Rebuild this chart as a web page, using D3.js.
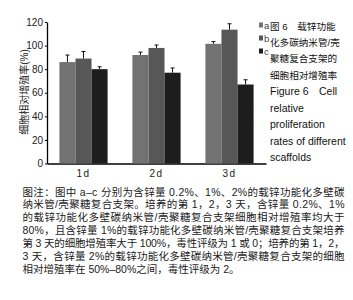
<!DOCTYPE html>
<html>
<head>
<meta charset="utf-8">
<script src="https://cdn.jsdelivr.net/npm/d3@7"></script>
<style>
  body { margin: 0; background: #fff; }
  svg { display: block; }
  text { font-family: "Liberation Sans", "Noto Sans CJK SC", sans-serif; }
</style>
</head>
<body>
<svg width="353" height="300"></svg>
<script>
const days = ["1d", "2d", "3d"]
const series = ["a", "b", "c"]
const valA = [86, 92, 101.5]
const valB = [89, 98, 113.5]
const valC = [80, 77, 67]
const errA = [6, 2.5, 2]
const errB = [6, 2.5, 5]
const errC = [2, 4, 4]
const yTicks = [0, 20, 40, 60, 80, 100, 120]
const colors = ["#727272", "#575757", "#1d1d1d"]

const titleLines = ["图 6　载锌功能", "化多碳纳米管/壳", "聚糖复合支架的", "细胞相对增殖率",
  "Figure 6　Cell", "relative", "proliferation", "rates of different", "scaffolds"]
const noteLines = [
  "图注：图中 a–c 分别为含锌量 0.2%、1%、2%的载锌功能化多壁碳",
  "纳米管/壳聚糖复合支架。培养的第 1，2，3 天，含锌量 0.2%、1%",
  "的载锌功能化多壁碳纳米管/壳聚糖复合支架细胞相对增殖率均大于",
  "80%，且含锌量 1%的载锌功能化多壁碳纳米管/壳聚糖复合支架培养",
  "第 3 天的细胞增殖率大于 100%，毒性评级为 1 或 0；培养的第 1，2，",
  "3 天，含锌量 2%的载锌功能化多壁碳纳米管/壳聚糖复合支架的细胞",
  "相对增殖率在 50%–80%之间，毒性评级为 2。"
]

const vals = [valA, valB, valC]
const errs = [errA, errB, errC]
const svg = d3.select("svg")

const x0 = d3.scaleBand().domain(days).range([47, 266]).paddingInner(0.34).paddingOuter(0.17)
const x1 = d3.scaleBand().domain(series).range([0, x0.bandwidth()])
const y = d3.scaleLinear().domain([0, 120]).range([163.5, 22])

// axes
const yAxis = d3.axisLeft(y).tickValues(yTicks).tickSize(2).tickSizeOuter(0).tickPadding(2)
const gy = svg.append("g").attr("transform", "translate(47,0)").call(yAxis)
gy.select(".domain").attr("stroke", "#000").attr("stroke-width", 1.3)
gy.selectAll("text").attr("font-size", 10).attr("fill", "#222")

const xAxis = d3.axisBottom(x0).tickSize(0).tickSizeOuter(0).tickPadding(6)
const gx = svg.append("g").attr("transform", "translate(0,163.5)").call(xAxis)
gx.select(".domain").attr("stroke", "#000").attr("stroke-width", 1.3)
gx.selectAll("text").attr("font-size", 10).attr("fill", "#222").attr("letter-spacing", 1.5)

// bars
const rows = []
days.forEach((d, i) => series.forEach((s, j) => rows.push({d, s, v: vals[j][i], e: errs[j][i], c: colors[j]})))

const g = svg.append("g")
g.selectAll("line.err").data(rows).enter().append("line")
  .attr("x1", r => x0(r.d) + x1(r.s) + x1.bandwidth() / 2)
  .attr("x2", r => x0(r.d) + x1(r.s) + x1.bandwidth() / 2)
  .attr("y1", r => y(r.v))
  .attr("y2", r => y(r.v + r.e))
  .attr("stroke", "#111").attr("stroke-width", 1)
g.selectAll("line.cap").data(rows).enter().append("line")
  .attr("x1", r => x0(r.d) + x1(r.s) + x1.bandwidth() / 2 - 2)
  .attr("x2", r => x0(r.d) + x1(r.s) + x1.bandwidth() / 2 + 2)
  .attr("y1", r => y(r.v + r.e))
  .attr("y2", r => y(r.v + r.e))
  .attr("stroke", "#111").attr("stroke-width", 1)
g.selectAll("rect").data(rows).enter().append("rect")
  .attr("x", r => x0(r.d) + x1(r.s))
  .attr("width", x1.bandwidth())
  .attr("y", r => y(r.v))
  .attr("height", r => y(0) - y(r.v))
  .attr("fill", r => r.c)

// y title
svg.append("text")
  .attr("transform", "translate(28,92) rotate(-90)")
  .attr("text-anchor", "middle")
  .attr("font-size", 10)
  .attr("fill", "#222")
  .text("细胞相对增殖率(%)")

// legend
const lg = svg.append("g").selectAll("g").data(series).enter().append("g")
  .attr("transform", (d, i) => `translate(259,${25 + i * 13})`)
lg.append("rect").attr("x", 0).attr("y", -2.5).attr("width", 4).attr("height", 5)
  .attr("fill", (d, i) => colors[i])
lg.append("text").attr("x", 5).attr("y", 3.5).attr("font-size", 9.5).attr("fill", "#444").text(d => d)

// figure title (chinese lines a bit smaller than the english ones)
svg.append("g").selectAll("text").data(titleLines).enter().append("text")
  .attr("x", 270)
  .attr("y", (d, i) => 29.5 + i * 16.45)
  .attr("font-size", (d, i) => i < 4 ? 9.6 : 10.5)
  .attr("fill", "#111")
  .text(d => d)

// note
svg.append("g").selectAll("text").data(noteLines).enter().append("text")
  .attr("x", 22.5)
  .attr("y", (d, i) => 195.5 + i * 12.9)
  .attr("font-size", 10.5)
  .attr("fill", "#1a1a1a")
  .each(function(d, i) {
    if (i < noteLines.length - 1) d3.select(this).attr("textLength", 322).attr("lengthAdjust", "spacing")
  })
  .text(d => d)
</script>
</body>
</html>
